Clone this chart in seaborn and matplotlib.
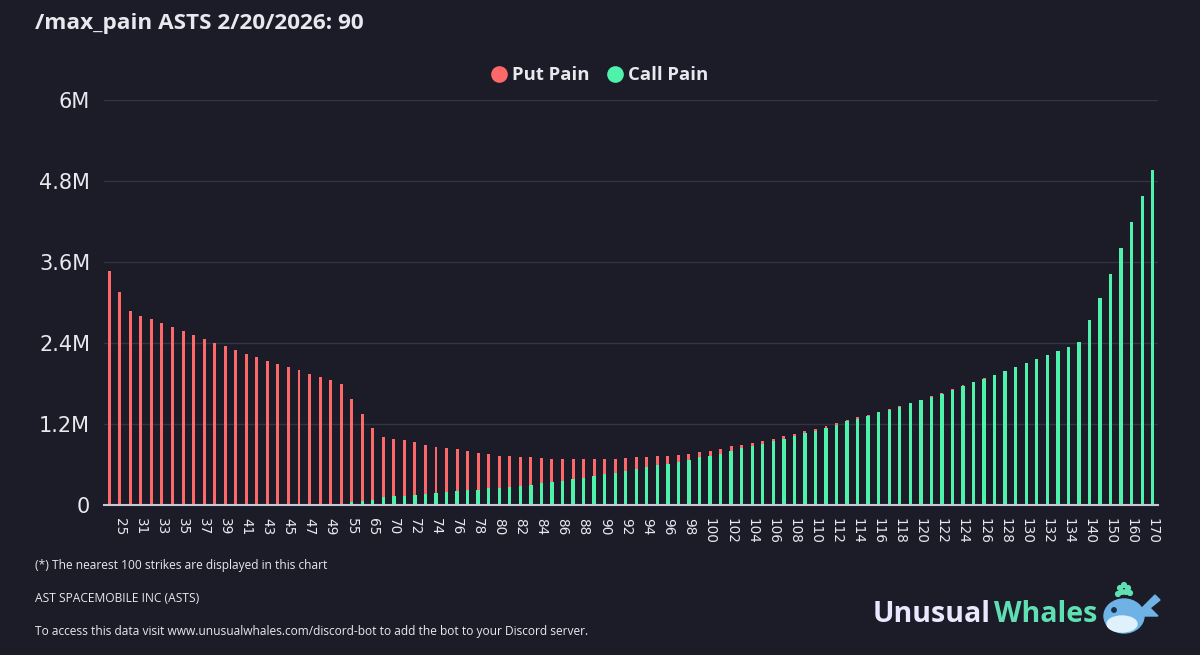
import matplotlib
matplotlib.use("Agg")
import matplotlib.pyplot as plt
import seaborn as sns
import pandas as pd
from matplotlib.lines import Line2D
from matplotlib.patches import Ellipse, Polygon, Circle

# ---------------- data (values in millions) ----------------
strikes = ["20", "25", "30", "31", "32", "33", "34", "35", "36", "37", "38", "39", "40",
           "41", "42", "43", "44", "45", "46", "47", "48", "49", "50", "55", "60", "65",
           "67.5", "70", "71", "72", "73", "74", "75", "76", "77", "78", "79", "80", "81",
           "82", "83", "84", "85", "86", "87", "88", "89", "90", "91", "92", "93", "94",
           "95", "96", "97", "98", "99", "100", "101", "102", "103", "104", "105", "106",
           "107", "108", "109", "110", "111", "112", "113", "114", "115", "116", "117",
           "118", "119", "120", "121", "122", "123", "124", "125", "126", "127", "128",
           "129", "130", "131", "132", "133", "134", "135", "140", "145", "150", "155",
           "160", "165", "170"]

put_pain = [3.467, 3.160, 2.874, 2.804, 2.751, 2.696, 2.633, 2.578, 2.523, 2.459,
            2.404, 2.351, 2.296, 2.242, 2.188, 2.138, 2.084, 2.044, 1.996, 1.931,
            1.886, 1.837, 1.778, 1.526, 1.284, 1.061, 0.887, 0.842, 0.825, 0.785,
            0.726, 0.686, 0.647, 0.628, 0.588, 0.548, 0.513, 0.479, 0.449, 0.425,
            0.410, 0.375, 0.350, 0.324, 0.292, 0.275, 0.249, 0.224, 0.207, 0.187,
            0.168, 0.148, 0.133, 0.119, 0.104, 0.088, 0.079, 0.074, 0.070, 0.064,
            0.050, 0.044, 0.039, 0.040, 0.036, 0.030, 0.029, 0.028, 0.027, 0.028,
            0.020, 0.018, 0.016, 0.012, 0.012, 0.010, 0.009, 0.008, 0.008, 0.007,
            0.006, 0.005, 0.004, 0.003, 0.003, 0.002, 0.002, 0.001, 0.001, 0.001,
            0.0, 0.0, 0.0, 0.0, 0.0, 0.0, 0.0, 0.0, 0.0, 0.0]

call_pain = [0.0, 0.0, 0.0, 0.0, 0.0, 0.0, 0.0, 0.0, 0.0, 0.0,
             0.0, 0.0, 0.0, 0.0, 0.0, 0.0, 0.0, 0.0, 0.0, 0.010,
             0.010, 0.012, 0.015, 0.040, 0.060, 0.080, 0.120, 0.138, 0.138, 0.153,
             0.168, 0.178, 0.193, 0.202, 0.217, 0.227, 0.247, 0.252, 0.272, 0.286,
             0.301, 0.321, 0.336, 0.360, 0.390, 0.405, 0.430, 0.454, 0.479, 0.509,
             0.538, 0.563, 0.588, 0.612, 0.642, 0.672, 0.711, 0.731, 0.760, 0.805,
             0.844, 0.879, 0.909, 0.943, 0.983, 1.027, 1.067, 1.101, 1.146, 1.190,
             1.240, 1.279, 1.319, 1.373, 1.412, 1.457, 1.506, 1.551, 1.605, 1.649,
             1.709, 1.768, 1.823, 1.874, 1.928, 1.986, 2.047, 2.103, 2.157, 2.221,
             2.281, 2.346, 2.410, 2.741, 3.072, 3.417, 3.802, 4.193, 4.573, 4.958]

y_ticks = [0, 1.2, 2.4, 3.6, 4.8, 6.0]
y_tick_labels = ["0", "1.2M", "2.4M", "3.6M", "4.8M", "6M"]

title = "/max_pain ASTS 2/20/2026: 90"
footer_lines = ["(*) The nearest 100 strikes are displayed in this chart",
                "AST SPACEMOBILE INC (ASTS)",
                "To access this data visit www.unusualwhales.com/discord-bot to add the bot to your Discord server."]

# ---------------- style ----------------
BG = "#1b1c27"
RED = "#fd6868"
GREEN = "#4ff2aa"
TXT = "#e8e8ee"
GRID = "#33343f"

sns.set_theme(style="dark")
plt.rcParams["font.family"] = ["Open Sans", "DejaVu Sans"]

W, H = 1200, 655
fig = plt.figure(figsize=(W / 100, H / 100), dpi=100, facecolor=BG)

def fx(px):
    return px / W

def fy(py):
    return 1 - py / H

ax = fig.add_axes([fx(104), fy(505), fx(1158) - fx(104), fy(100) - fy(505)])
ax.set_facecolor(BG)

df = pd.DataFrame({"strike": strikes, "put": put_pain, "call": call_pain})
df["total"] = df["put"] + df["call"]

# stacked: put pain sits on top of call pain
sns.barplot(data=df, x="strike", y="total", order=strikes, color=RED,
            saturation=1, width=0.28, ax=ax, linewidth=0)
sns.barplot(data=df, x="strike", y="call", order=strikes, color=GREEN,
            saturation=1, width=0.32, ax=ax, linewidth=0)

ax.set_xlim(-0.5, len(strikes) - 0.5)
ax.set_ylim(0, 6.0)
ax.set_yticks(y_ticks)
ax.set_yticklabels(y_tick_labels, family="DejaVu Sans", fontsize=15, color=TXT)
ax.set_xticks(range(len(strikes)))
ax.set_xticklabels([s if i % 2 == 1 else "" for i, s in enumerate(strikes)],
                   rotation=-90, family="DejaVu Sans", fontsize=9.8, color=TXT,
                   ha="center", va="top")
ax.tick_params(axis="x", length=0, pad=9)
ax.tick_params(axis="y", length=0, pad=10)
ax.set_xlabel("")
ax.set_ylabel("")
ax.grid(axis="y", color=GRID, linewidth=1)
ax.grid(axis="x", visible=False)
ax.set_axisbelow(True)
for side in ["top", "right", "left"]:
    ax.spines[side].set_visible(False)
ax.spines["bottom"].set_color("#c8c9d6")
ax.spines["bottom"].set_linewidth(1.5)

# ---------------- title, legend ----------------
fig.text(fx(35), fy(24), title, color=TXT, fontsize=16.2, fontweight="bold",
         ha="left", va="center")

handles = [Line2D([], [], marker="o", linestyle="", markersize=12,
                  markerfacecolor=RED, markeredgewidth=0, label="Put Pain"),
           Line2D([], [], marker="o", linestyle="", markersize=12,
                  markerfacecolor=GREEN, markeredgewidth=0, label="Call Pain")]
leg = fig.legend(handles=handles, loc="center", bbox_to_anchor=(fx(599), fy(75)),
                 ncol=2, frameon=False, handlelength=1.0, handletextpad=0.2,
                 columnspacing=0.85, prop={"weight": "bold", "size": 13.3})
for t in leg.get_texts():
    t.set_color(TXT)

# ---------------- footer ----------------
for py, line in zip([566, 599, 631], footer_lines):
    fig.text(fx(35), fy(py), line, color=TXT, fontsize=8.65, ha="left", va="center")

fig.text(fx(873), fy(615), "Unusual", color="#e9e8ff", fontsize=20.5,
         fontweight="bold", ha="left", va="center")
fig.text(fx(1097), fy(615), "Whales", color="#5fe0b2", fontsize=20.5,
         fontweight="bold", ha="right", va="center")

# simple whale mark
lax = fig.add_axes([fx(1100), fy(640), fx(1162) - fx(1100), fy(580) - fy(640)])
lax.set_xlim(0, 62)
lax.set_ylim(60, 0)
lax.axis("off")
lax.add_patch(Polygon([[40, 30], [55, 15], [60, 20], [50, 28], [58, 36], [44, 36]],
                      closed=True, color="#6fb3e6"))
lax.add_patch(Ellipse((24, 36), 40, 34, color="#6fb3e6"))
lax.add_patch(Ellipse((22, 44), 30, 16, color="#dff1fb"))
lax.add_patch(Circle((14, 30), 2.2, color="#1b2b4a"))
for cx, cy in [(20, 8), (24, 5), (28, 8), (22, 12), (26, 12), (18, 14), (30, 13)]:
    lax.add_patch(Circle((cx, cy), 2.4, color="#5fe0b2"))

fig.savefig("out.png", dpi=100, facecolor=BG)
